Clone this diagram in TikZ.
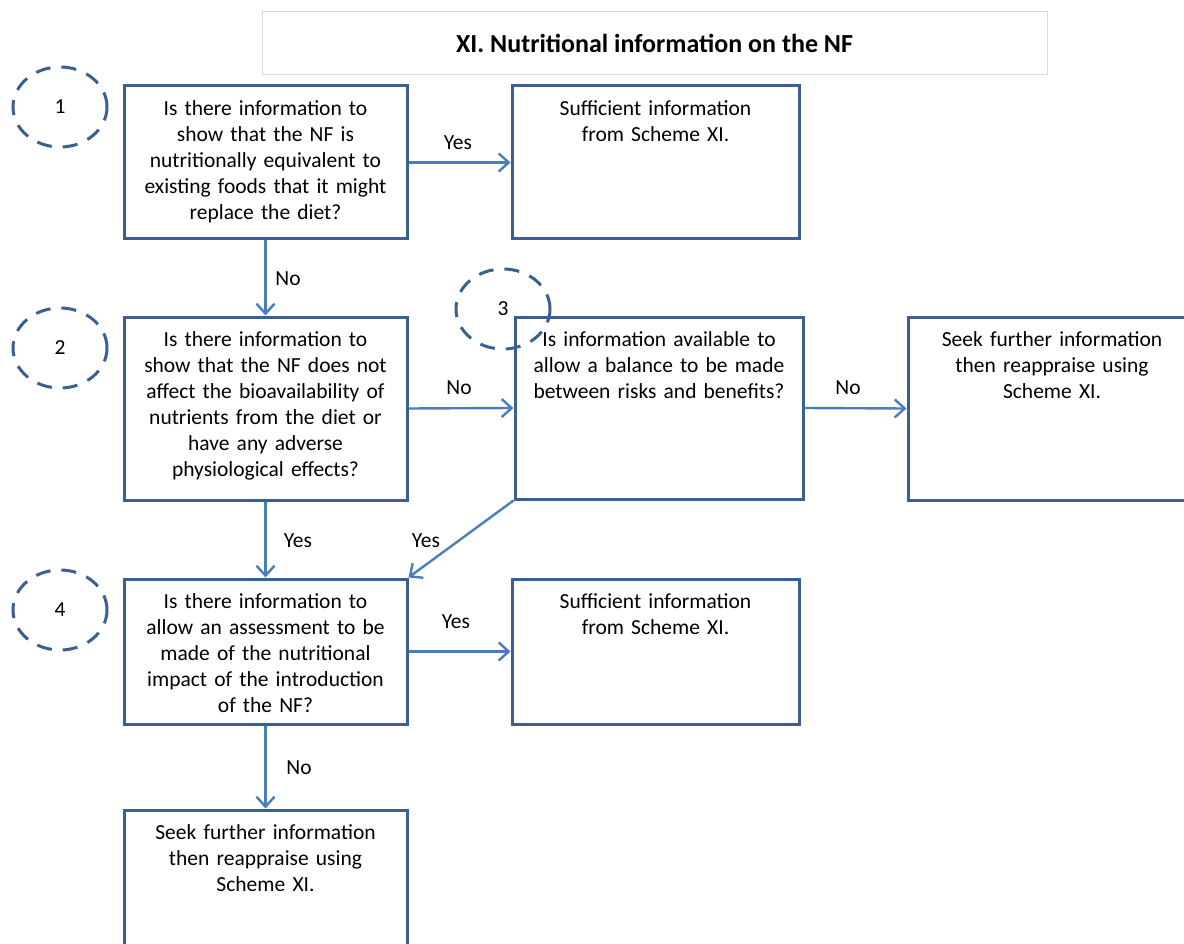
\documentclass[tikz,border=0pt]{standalone}
\usepackage{fontspec}
\setmainfont{Carlito}
\usetikzlibrary{arrows.meta,shapes.geometric}
\definecolor{boxblue}{HTML}{3B5F8F}
\definecolor{arrblue}{HTML}{4A7EBB}
\definecolor{titlegray}{HTML}{D9D9D9}
\begin{document}
\begin{tikzpicture}[x=1pt,y=-1pt,
  box/.style={draw=boxblue,line width=3pt,rectangle,inner sep=0pt},
  txt/.style={anchor=north,align=center,text width=275pt,inner sep=0pt,
    font=\fontsize{21.5}{26}\selectfont,yshift=-16pt},
  lbl/.style={font=\fontsize{21.5}{26}\selectfont,inner sep=0pt},
  arr/.style={draw=arrblue,line width=2.4pt,-{Straight Barb[length=10pt,width=18pt,line width=2.4pt]}},
  circ/.style={draw=boxblue,line width=3pt,ellipse,dash pattern=on 15pt off 11pt,
    minimum width=94pt,minimum height=80pt,inner sep=0pt,font=\fontsize{21.5}{26}\selectfont}
]
\clip (0,0) rectangle (1184,944);
\fill[white] (0,0) rectangle (1184,944);
% title
\node[draw=titlegray,line width=1pt,minimum width=785pt,minimum height=63pt,inner sep=0pt,
  font=\fontsize{26}{30}\selectfont\bfseries] (title) at (654.5,43.5) {XI. Nutritional information on the NF};
% circles
\node[circ] (c1) at (60,107) {1};
\node[circ] (c2) at (60,348) {2};
\node[circ] (c3) at (503,309) {3};
\node[circ] (c4) at (60,610) {4};
% boxes
\node[box,minimum width=283pt,minimum height=153pt] (b1) at (265.5,162.5) {};
\node[box,minimum width=287pt,minimum height=153pt] (y1) at (655.5,162.5) {};
\node[box,minimum width=283pt,minimum height=183pt] (b2) at (265.5,408.5) {};
\node[box,minimum width=288pt,minimum height=182pt] (b3) at (659,408) {};
\node[box,minimum width=288pt,minimum height=183pt] (b3r) at (1052,408.5) {};
\node[box,minimum width=283pt,minimum height=145pt] (b4) at (265.5,651.5) {};
\node[box,minimum width=287pt,minimum height=145pt] (y4) at (655.5,651.5) {};
\node[box,minimum width=283pt,minimum height=153pt] (b5) at (265.5,886.5) {};
% texts
\node[txt] (t1) at (b1.north) {Is there information to\\show that the NF is\\nutritionally equivalent to\\existing foods that it might\\replace the diet?};
\node[txt] (ty1) at (y1.north) {Sufficient information\\from Scheme XI.};
\node[txt] (t2) at (b2.north) {Is there information to\\show that the NF does not\\affect the bioavailability of\\nutrients from the diet or\\have any adverse\\physiological effects?};
\node[txt] (t3) at (b3.north) {Is information available to\\allow a balance to be made\\between risks and benefits?};
\node[txt] (t3r) at (b3r.north) {Seek further information\\then reappraise using\\Scheme XI.};
\node[txt] (t4) at (b4.north) {Is there information to\\allow an assessment to be\\made of the nutritional\\impact of the introduction\\of the NF?};
\node[txt] (ty4) at (y4.north) {Sufficient information\\from Scheme XI.};
\node[txt] (t5) at (b5.north) {Seek further information\\then reappraise using\\Scheme XI.};
% arrows
\draw[arr] (b1.east) -- (y1.west);
\draw[arr] (b1.south) -- (b2.north);
\draw[arr] (b2.east) -- (b3.west);
\draw[arr] (b3.east) -- (b3r.west);
\draw[arr] (b2.south) -- (b4.north);
\draw[arr] (b3.south west) -- (b4.north east);
\draw[arr] (b4.east) -- (y4.west);
\draw[arr] (b4.south) -- (b5.north);
% labels
\node[lbl] (l1) at (458,143) {Yes};
\node[lbl] (l2) at (288,279) {No};
\node[lbl] (l3) at (459,388) {No};
\node[lbl] (l4) at (848,388) {No};
\node[lbl] (l5) at (298,541) {Yes};
\node[lbl] (l6) at (426,541) {Yes};
\node[lbl] (l7) at (456,622) {Yes};
\node[lbl] (l8) at (299,768) {No};
\end{tikzpicture}
\end{document}
